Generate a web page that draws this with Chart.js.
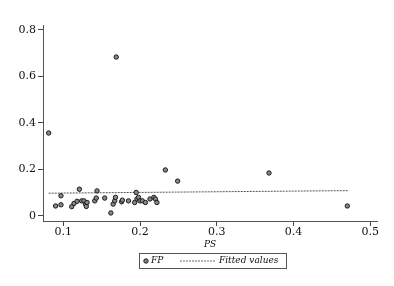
<!DOCTYPE html>
<html>
<head>
<meta charset="utf-8">
<script src="https://cdn.jsdelivr.net/npm/chart.js@4.4.1/dist/chart.umd.min.js"></script>
<style>
  html, body { margin: 0; padding: 0; background: #fff; }
  #wrap { width: 394px; height: 286px; }
</style>
</head>
<body>
<div id="wrap"><canvas id="chart" width="394" height="286"></canvas></div>
<script>
// PS (x) and FP (y)
var ps = [0.081, 0.169, 0.368, 0.470, 0.233, 0.249,
  0.090, 0.097, 0.097, 0.111, 0.114, 0.118, 0.121, 0.124, 0.127, 0.129,
  0.130, 0.131, 0.141, 0.143, 0.144, 0.154, 0.162, 0.165, 0.167, 0.168,
  0.176, 0.177, 0.185, 0.193, 0.195, 0.196, 0.198, 0.200, 0.203, 0.207,
  0.213, 0.218, 0.220, 0.222];
var fp = [0.356, 0.683, 0.184, 0.042, 0.197, 0.149,
  0.042, 0.047, 0.086, 0.039, 0.053, 0.062, 0.114, 0.064, 0.064, 0.050,
  0.040, 0.057, 0.064, 0.076, 0.107, 0.076, 0.012, 0.050, 0.064, 0.079,
  0.060, 0.067, 0.064, 0.057, 0.100, 0.072, 0.079, 0.064, 0.064, 0.057,
  0.072, 0.079, 0.072, 0.057];

// fitted values line endpoints
var fitX = [0.081, 0.471];
var fitY = [0.097, 0.108];

var xTicks = [0.1, 0.2, 0.3, 0.4, 0.5];
var yTicks = [0, 0.2, 0.4, 0.6, 0.8];

var serif = "'DejaVu Serif', 'Liberation Serif', serif";

var legendBox = {
  id: "legendBox",
  afterDraw: function (chart) {
    var c = chart.ctx;
    c.save();
    c.strokeStyle = "#555";
    c.lineWidth = 1;
    c.strokeRect(139.5, 253.5, 147, 15);
    // FP marker
    c.beginPath();
    c.arc(146, 261, 2.2, 0, Math.PI * 2);
    c.fillStyle = "#888";
    c.fill();
    c.strokeStyle = "#1a1a1a";
    c.stroke();
    c.fillStyle = "#111";
    c.font = "italic 9px " + serif;
    c.textBaseline = "middle";
    c.fillText("FP", 151, 261);
    // fitted line sample
    c.beginPath();
    c.setLineDash([2, 1]);
    c.strokeStyle = "#666";
    c.moveTo(180, 261);
    c.lineTo(215, 261);
    c.stroke();
    c.setLineDash([]);
    c.fillText("Fitted values", 219, 261);
    c.restore();
  }
};

new Chart(document.getElementById("chart"), {
  type: "scatter",
  data: {
    datasets: [
      {
        label: "FP",
        data: ps.map(function (x, i) { return { x: x, y: fp[i] }; }),
        pointStyle: "circle",
        pointRadius: 2.2,
        pointBorderWidth: 1,
        pointBackgroundColor: "#888",
        pointBorderColor: "#1a1a1a",
        showLine: false
      },
      {
        label: "Fitted values",
        type: "line",
        data: fitX.map(function (x, i) { return { x: x, y: fitY[i] }; }),
        borderColor: "#555",
        borderWidth: 1,
        borderDash: [2, 1],
        pointRadius: 0,
        fill: false
      }
    ]
  },
  options: {
    responsive: false,
    animation: false,
    layout: { padding: { top: 25, right: 17, bottom: 36, left: 0 } },
    plugins: {
      legend: { display: false },
      tooltip: { enabled: false }
    },
    scales: {
      x: {
        type: "linear",
        min: 0.0736,
        max: 0.5087,
        afterBuildTicks: function (s) { s.ticks = xTicks.map(function (v) { return { value: v }; }); },
        afterFit: function (s) { s.height = 29; },
        grid: { drawOnChartArea: false, drawTicks: true, tickLength: 5, color: "#444" },
        border: { display: true, color: "#555", width: 1 },
        ticks: {
          padding: 0,
          color: "#111",
          font: { family: serif, size: 11 },
          maxRotation: 0,
          callback: function (v) { return v.toFixed(1); }
        },
        title: {
          display: true,
          text: "PS",
          color: "#111",
          font: { family: serif, size: 9, style: "italic" },
          padding: { top: 0, bottom: 0 }
        }
      },
      y: {
        type: "linear",
        min: -0.0227,
        max: 0.821,
        afterBuildTicks: function (s) { s.ticks = yTicks.map(function (v) { return { value: v }; }); },
        afterFit: function (s) { s.width = 43; },
        grid: { drawOnChartArea: false, drawTicks: true, tickLength: 5, color: "#444" },
        border: { display: true, color: "#555", width: 1 },
        ticks: {
          padding: 2,
          color: "#111",
          font: { family: serif, size: 11 },
          callback: function (v) { return v === 0 ? "0" : v.toFixed(1); }
        }
      }
    }
  },
  plugins: [legendBox]
});
</script>
</body>
</html>
